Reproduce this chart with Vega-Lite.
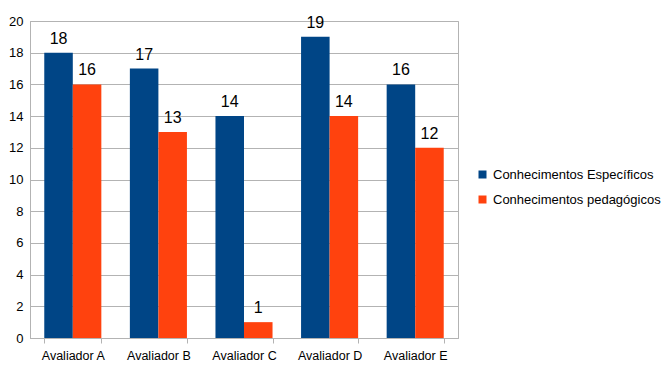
{
  "$schema": "https://vega.github.io/schema/vega-lite/v6.json",
  "width": 428,
  "height": 317,
  "autosize": {"type": "none"},
  "padding": {"left": 30, "top": 21, "right": 210, "bottom": 27},
  "background": "white",
  "config": {
    "font": "Liberation Sans",
    "view": {"stroke": "#b3b3b3", "strokeWidth": 1},
    "axis": {
      "labelFont": "Liberation Sans",
      "labelColor": "#000000",
      "labelFontSize": 13,
      "domainColor": "#b3b3b3",
      "tickColor": "#b3b3b3",
      "gridColor": "#b3b3b3",
      "title": null
    },
    "legend": {
      "labelFont": "Liberation Sans",
      "labelFontSize": 13,
      "labelColor": "#000000",
      "labelLimit": 0
    }
  },
  "data": {
    "values": [
      {"avaliador": "Avaliador A", "tipo": "Conhecimentos Específicos", "nota": 18},
      {"avaliador": "Avaliador A", "tipo": "Conhecimentos pedagógicos", "nota": 16},
      {"avaliador": "Avaliador B", "tipo": "Conhecimentos Específicos", "nota": 17},
      {"avaliador": "Avaliador B", "tipo": "Conhecimentos pedagógicos", "nota": 13},
      {"avaliador": "Avaliador C", "tipo": "Conhecimentos Específicos", "nota": 14},
      {"avaliador": "Avaliador C", "tipo": "Conhecimentos pedagógicos", "nota": 1},
      {"avaliador": "Avaliador D", "tipo": "Conhecimentos Específicos", "nota": 19},
      {"avaliador": "Avaliador D", "tipo": "Conhecimentos pedagógicos", "nota": 14},
      {"avaliador": "Avaliador E", "tipo": "Conhecimentos Específicos", "nota": 16},
      {"avaliador": "Avaliador E", "tipo": "Conhecimentos pedagógicos", "nota": 12}
    ]
  },
  "encoding": {
    "x": {
      "field": "avaliador",
      "type": "nominal",
      "scale": {"paddingInner": 0.3333, "paddingOuter": 0.1667},
      "axis": {
        "labelAngle": 0,
        "labelFontSize": 12.5,
        "tickBand": "extent",
        "tickSize": 5,
        "labelPadding": 6,
        "grid": false
      }
    },
    "xOffset": {
      "field": "tipo",
      "type": "nominal",
      "scale": {"paddingInner": 0, "paddingOuter": 0}
    },
    "y": {
      "field": "nota",
      "type": "quantitative",
      "scale": {"domain": [0, 20], "nice": false},
      "axis": {
        "values": [0, 2, 4, 6, 8, 10, 12, 14, 16, 18, 20],
        "ticks": false,
        "labelPadding": 7,
        "grid": true
      }
    }
  },
  "layer": [
    {
      "mark": {"type": "bar"},
      "encoding": {
        "color": {
          "field": "tipo",
          "type": "nominal",
          "scale": {
            "domain": ["Conhecimentos Específicos", "Conhecimentos pedagógicos"],
            "range": ["#004586", "#ff420e"]
          },
          "legend": {
            "title": null,
            "orient": "none",
            "legendX": 446,
            "legendY": 147,
            "symbolType": "square",
            "symbolSize": 64,
            "symbolStrokeWidth": 0,
            "labelOffset": 4,
            "rowPadding": 11
          }
        }
      }
    },
    {
      "mark": {"type": "text", "baseline": "alphabetic", "dy": -9, "fontSize": 16, "color": "#000000"},
      "encoding": {
        "text": {"field": "nota", "type": "quantitative"}
      }
    }
  ]
}
